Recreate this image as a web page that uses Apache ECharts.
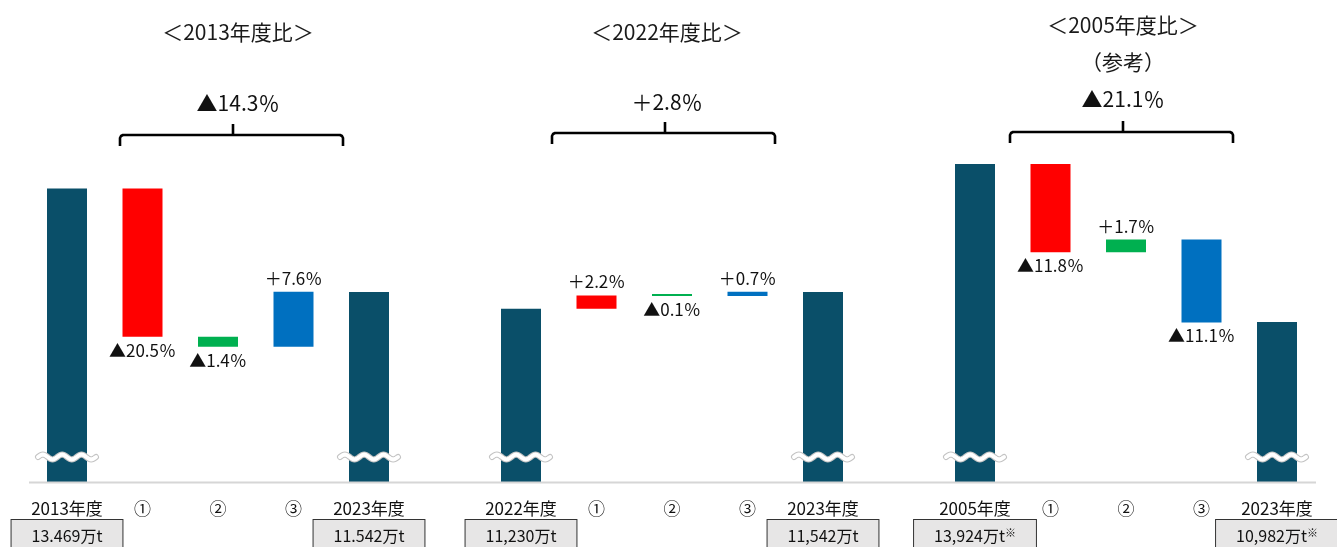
<!DOCTYPE html>
<html>
<head>
<meta charset="utf-8">
<script src="https://cdn.jsdelivr.net/npm/echarts@6/dist/echarts.min.js"></script>
<style>
  html, body { margin: 0; padding: 0; background: #ffffff; }
  #chart { width: 1337px; height: 547px; }
</style>
</head>
<body>
<div id="chart"></div>
<script>
// Emission changes by comparison year (万t-CO2), waterfall per base year
const categories2013 = ['2013年度', '①', '②', '③', '2023年度'];
const categories2022 = ['2022年度', '①', '②', '③', '2023年度'];
const categories2005 = ['2005年度', '①', '②', '③', '2023年度'];
const startTotals = [13469, 11230, 13924];
const endTotals = [11542, 11542, 10982];
const changes2013 = [-20.5, -1.4, 7.6];   // % of base year
const changes2022 = [2.2, -0.1, 0.7];
const changes2005 = [-11.8, 1.7, -11.1];
const overallChanges = [-14.3, 2.8, -21.1];
const startLabels = ['13.469万t', '11,230万t', '13,924万t'];
const endLabels = ['11.542万t', '11,542万t', '10,982万t'];
const footnoteMarks = [false, false, true];
const titles = ['＜2013年度比＞', '＜2022年度比＞', '＜2005年度比＞'];
const subtitles = ['', '', '（参考）'];
const yMin = 8000;
const yMax = 14000;

const categories = [categories2013, categories2022, categories2005];
const changes = [changes2013, changes2022, changes2005];

const stepColors = ['#ff0000', '#00b050', '#0070c0'];
const totalColor = '#0a4f69';
const FONT = '"Noto Sans CJK JP", "Noto Sans", sans-serif';

const gridLefts = [29.25, 483.25, 937.25];
const gridWidth = 377.5;

function pctText(p) {
  return (p < 0 ? '▲' : '＋') + Math.abs(p).toFixed(1) + '％';
}

const grids = [], xAxes = [], yAxes = [], series = [];

for (let i = 0; i < 3; i++) {
  grids.push({ left: gridLefts[i], top: 160, width: gridWidth, height: 322, outerBoundsMode: 'none', containLabel: false });

  // category axis with names
  xAxes.push({
    type: 'category', gridIndex: i, data: categories[i],
    axisLine: { show: false }, axisTick: { show: false },
    axisLabel: { color: '#111', fontSize: 17, fontFamily: FONT, margin: 18, interval: 0 }
  });
  // second axis carrying the boxed totals
  const boxTexts = [startLabels[i], '', '', '', endLabels[i]];
  const mark = footnoteMarks[i];
  xAxes.push({
    type: 'category', gridIndex: i, data: boxTexts, position: 'bottom',
    axisLine: { show: false }, axisTick: { show: false },
    axisLabel: {
      interval: function (idx) { return idx === 0 || idx === 4; },
      margin: 38,
      fontFamily: FONT, fontSize: 16, color: '#111',
      backgroundColor: '#e7e6e6', borderColor: '#333', borderWidth: 1,
      padding: [7, 20, 14, 20],
      formatter: function (v) { return mark ? '{v|' + v + '}{s|※}' : '{v|' + v + '}'; },
      rich: {
        v: { fontFamily: FONT, fontSize: 16, color: '#111', lineHeight: 18 },
        s: { fontFamily: FONT, fontSize: 11, color: '#111', lineHeight: 10, verticalAlign: 'top' }
      }
    }
  });
  yAxes.push({ type: 'value', gridIndex: i, min: yMin, max: yMax, show: false, splitLine: { show: false } });

  // waterfall levels
  const base = [0];
  const visible = [{ value: startTotals[i], itemStyle: { color: totalColor }, label: { show: false } }];
  let level = startTotals[i];
  changes[i].forEach(function (p, k) {
    const delta = startTotals[i] * p / 100;
    const next = level + delta;
    base.push(Math.min(level, next));
    visible.push({
      value: Math.abs(delta),
      itemStyle: { color: stepColors[k] },
      label: { show: true, position: p < 0 ? 'bottom' : 'top', formatter: pctText(p) }
    });
    level = next;
  });
  base.push(0);
  visible.push({ value: endTotals[i], itemStyle: { color: totalColor }, label: { show: false } });

  series.push({
    type: 'bar', stack: 'w' + i, xAxisIndex: 2 * i, yAxisIndex: i, barWidth: 40,
    silent: true, itemStyle: { color: 'rgba(0,0,0,0)' }, data: base
  });
  series.push({
    type: 'bar', stack: 'w' + i, xAxisIndex: 2 * i, yAxisIndex: i, barWidth: 40,
    barMinHeight: 2,
    label: { distance: 5, color: '#111', fontSize: 17, fontFamily: FONT },
    data: visible
  });
  // axis-break marks across the total bars
  series.push({
    type: 'custom', xAxisIndex: 2 * i, yAxisIndex: i, silent: true, z: 5,
    data: [[0, yMin], [4, yMin]],
    renderItem: function (params, api) {
      const p = api.coord([api.value(0), api.value(1)]);
      const cx = p[0], cy = p[1] - 25;
      const half = 29, amp = 2.4, n = 60;
      const pts = [];
      for (let k = 0; k <= n; k++) {
        const t = k / n;
        pts.push([cx - half + 2 * half * t, cy + amp * Math.sin(t * 3 * 2 * Math.PI + Math.PI)]);
      }
      return {
        type: 'group',
        children: [
          { type: 'polyline', shape: { points: pts }, style: { stroke: '#c4c4c4', lineWidth: 6, fill: null, lineCap: 'round' } },
          { type: 'polyline', shape: { points: pts }, style: { stroke: '#ffffff', lineWidth: 4, fill: null, lineCap: 'round' } }
        ]
      };
    }
  });
}

// headings, overall change and brackets
const headPos = [
  { x: 238, title: 32, sub: 0, total: 103, bx1: 120, bx2: 343, by: 135, bm: 233 },
  { x: 667, title: 32, sub: 0, total: 102, bx1: 552, bx2: 775, by: 133, bm: 665 },
  { x: 1123, title: 25, sub: 62, total: 99, bx1: 1010, bx2: 1233, by: 132, bm: 1123 }
];
const graphics = [];
graphics.push({
  type: 'line', shape: { x1: 29, y1: 482.5, x2: 1316, y2: 482.5 },
  style: { stroke: '#d6d6d6', lineWidth: 2 }, z: 10
});
headPos.forEach(function (h, i) {
  graphics.push({
    type: 'text', x: h.x, y: h.title,
    style: { text: titles[i], fontSize: 21, fontFamily: FONT, fill: '#1a1a1a', align: 'center', verticalAlign: 'middle' }
  });
  if (subtitles[i]) {
    graphics.push({
      type: 'text', x: h.x, y: h.sub,
      style: { text: subtitles[i], fontSize: 21, fontFamily: FONT, fill: '#1a1a1a', align: 'center', verticalAlign: 'middle' }
    });
  }
  graphics.push({
    type: 'text', x: h.x, y: h.total,
    style: { text: pctText(overallChanges[i]), fontSize: 21, fontFamily: FONT, fill: '#111', align: 'center', verticalAlign: 'middle' }
  });
  const y = h.by, r = 3;
  graphics.push({
    type: 'polyline',
    shape: {
      points: [
        [h.bx1, y + 11], [h.bx1, y + r], [h.bx1 + 1, y + 1], [h.bx1 + r, y],
        [h.bx2 - r, y], [h.bx2 - 1, y + 1], [h.bx2, y + r], [h.bx2, y + 11]
      ]
    },
    style: { stroke: '#000', lineWidth: 2.6, fill: null, lineJoin: 'round' }
  });
  graphics.push({
    type: 'line', shape: { x1: h.bm, y1: y, x2: h.bm, y2: y - 11 },
    style: { stroke: '#000', lineWidth: 2.6 }
  });
});

const chart = echarts.init(document.getElementById('chart'), null, { renderer: 'canvas' });
chart.setOption({
  animation: false,
  backgroundColor: '#ffffff',
  grid: grids,
  xAxis: xAxes,
  yAxis: yAxes,
  series: series,
  graphic: graphics
});
</script>
</body>
</html>
